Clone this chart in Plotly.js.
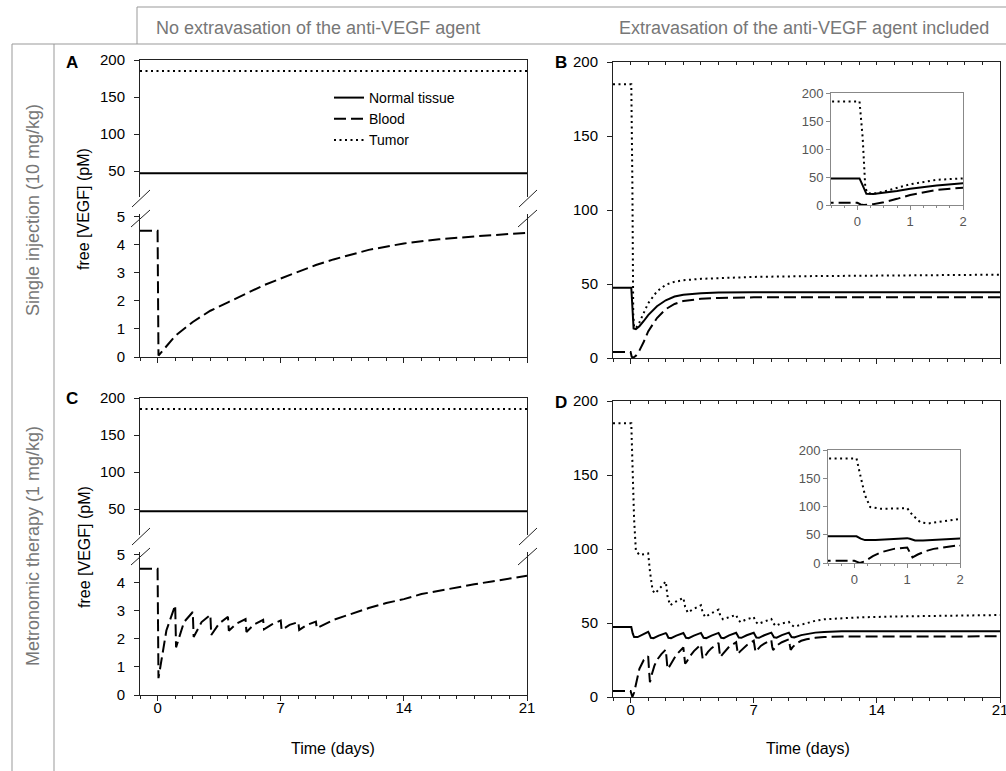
<!DOCTYPE html>
<html><head><meta charset="utf-8">
<script src="https://cdn.plot.ly/plotly-3.0.1.min.js"></script>
<style>body{margin:0;background:#fff}#chart{width:1006px;height:771px}</style>
</head><body><div id="chart"></div>
<script>
// ---------------- DATA ----------------
const seriesNames = ["Normal tissue", "Blood", "Tumor"];
const flatDays = [-1, 21];
const normalFlat = [47, 47];
const tumorFlat = [185, 185];

// Panel A: single injection, no extravasation (blood)
const bloodA_t = [-1, 0, 0.05, 0.5, 1, 2, 3, 4, 5, 6, 7, 8, 9, 10, 12, 14, 16, 18, 20, 21];
const bloodA_v = [4.5, 4.5, 0.05, 0.4, 0.75, 1.25, 1.65, 1.95, 2.25, 2.55, 2.8, 3.05, 3.28, 3.48, 3.82, 4.05, 4.2, 4.3, 4.4, 4.43];

// Panel C: metronomic, no extravasation (blood)
const bloodC_t = [-1, 0, 0.05, 0.5, 1.0, 1.05, 1.5, 2.0, 2.05, 2.5, 3.0, 3.05, 3.5, 4.0, 4.05, 4.5, 5.0, 5.05, 5.5, 6.0, 6.05, 6.5, 7.0, 7.05, 7.5, 8.0, 8.05, 8.5, 9.0, 9.05, 10, 11, 12, 13, 14, 15, 16, 17, 18, 19, 20, 21];
const bloodC_v = [4.5, 4.5, 0.6, 2.3, 3.2, 1.7, 2.6, 2.96, 2.07, 2.6, 2.86, 2.14, 2.55, 2.79, 2.29, 2.55, 2.71, 2.25, 2.52, 2.68, 2.34, 2.52, 2.66, 2.32, 2.5, 2.6, 2.32, 2.5, 2.62, 2.38, 2.68, 2.9, 3.1, 3.28, 3.42, 3.6, 3.72, 3.82, 3.95, 4.05, 4.15, 4.25];

// Panel B: single injection, extravasation included
const tumorB_t = [-1, 0.04, 0.1, 0.15, 0.2, 0.3, 0.5, 0.75, 1, 1.5, 2, 2.5, 3, 4, 5, 7, 10, 14, 21];
const tumorB_v = [185, 185, 120, 30, 21, 20, 24, 30, 37, 45, 49.5, 51.5, 52.5, 53.5, 54, 54.8, 55.3, 55.8, 56.3];
const normalB_t = [-1, 0.04, 0.1, 0.17, 0.3, 0.5, 0.75, 1, 1.5, 2, 2.5, 3, 4, 5, 7, 21];
const normalB_v = [47.5, 47.5, 35, 20, 19.5, 21.5, 25, 29, 35, 39, 41.5, 42.8, 43.8, 44.2, 44.5, 44.5];
const bloodB_t = [-1, 0, 0.06, 0.12, 0.3, 0.5, 0.75, 1, 1.5, 2, 2.5, 3, 4, 5, 7, 21];
const bloodB_v = [4, 4, 1, 0, 1.5, 5, 11, 18, 27, 33, 36.5, 38.5, 40, 40.6, 41, 41];

// Panel D: metronomic, extravasation included
const tumorD_t = [-1, 0.04, 0.1, 0.2, 0.3, 0.5, 0.8, 1.0, 1.1, 1.25, 1.4, 1.7, 2.0, 2.1, 2.25, 2.5, 3.0, 3.1, 3.25, 3.5, 4.0, 4.1, 4.25, 4.5, 5.0, 5.1, 5.25, 5.5, 6.0, 6.1, 6.25, 6.5, 7.0, 7.1, 7.25, 7.5, 8.0, 8.1, 8.25, 8.5, 9.0, 9.1, 9.3, 9.6, 10, 10.5, 11, 12, 13, 15, 18, 21];
const tumorD_v = [185, 185, 160, 120, 99, 96, 96.5, 97, 85, 72, 70, 74, 78, 68, 62, 64, 67, 61, 57, 59, 62, 57, 54, 56, 59, 55, 52.5, 53.5, 55.5, 52.5, 50.5, 52, 54, 51, 49.3, 50.5, 52.7, 50, 48, 49.5, 50.7, 49, 47.5, 48.5, 50, 51.5, 52.5, 53.3, 53.8, 54.4, 55, 55.4];
const normalD_t = [-1, 0.04, 0.12, 0.2, 0.4, 0.7, 1.0, 1.05, 1.15, 1.3, 1.6, 2.0, 2.05, 2.15, 2.3, 2.6, 3.0, 3.15, 3.3, 3.6, 4.0, 4.15, 4.3, 4.6, 5.0, 5.15, 5.3, 5.6, 6.0, 6.15, 6.3, 6.6, 7.0, 7.15, 7.3, 7.6, 8.0, 8.15, 8.3, 8.6, 9.0, 9.15, 9.3, 9.7, 10, 10.5, 11, 12, 14, 21];
const normalD_v = [47.3, 47.3, 43, 40.5, 40.5, 42.5, 44, 43, 40, 39.7, 41.5, 43.2, 42.5, 40, 39.8, 41.5, 43.2, 40, 39.8, 41.5, 43.3, 40, 39.8, 41.5, 43.3, 40, 39.8, 41.6, 43.4, 40.2, 40, 41.7, 43.4, 40.2, 40, 41.7, 43.5, 40.3, 40.1, 41.8, 43.5, 40.5, 40.3, 41.8, 42.6, 43.5, 44, 44.4, 44.5, 44.5];
const bloodD_t = [-1, 0, 0.05, 0.1, 0.2, 0.35, 0.5, 0.75, 1.0, 1.05, 1.1, 1.2, 1.35, 1.5, 1.75, 2.0, 2.05, 2.1, 2.2, 2.4, 2.6, 3.0, 3.05, 3.1, 3.2, 3.4, 3.6, 4.0, 4.05, 4.1, 4.2, 4.4, 4.6, 5.0, 5.05, 5.1, 5.2, 5.4, 5.6, 6.0, 6.05, 6.1, 6.2, 6.4, 6.6, 7.0, 7.05, 7.1, 7.2, 7.4, 7.6, 8.0, 8.05, 8.1, 8.2, 8.4, 8.6, 9.0, 9.05, 9.1, 9.2, 9.4, 9.7, 10, 10.5, 11, 12, 21];
const bloodD_v = [4, 4, 2, 0, 3, 12, 19, 25, 27.5, 18, 10, 15, 21, 25, 29, 32, 25, 19, 20.5, 25, 28.5, 33.5, 28, 22.5, 24, 28, 31, 35.5, 30, 25.7, 27, 30.5, 33, 36.5, 31, 27, 28.5, 31.5, 34, 37, 32, 29, 30.5, 33, 35, 38, 34, 30.4, 31.8, 34.5, 36, 38.5, 34, 31.8, 33, 35.5, 37, 39, 35, 31.8, 33.5, 36, 38, 39, 40, 40.5, 40.8, 41];

// tick values / labels
const dayTicks = [0, 7, 14, 21];
const upperTicks = [50, 100, 150, 200];
const lowerTicks = [0, 1, 2, 3, 4, 5];
const fullTicks = [0, 50, 100, 150, 200];
const insetDayTicks = [0, 1, 2];

const headerLeft = "No extravasation of the anti-VEGF agent";
const headerRight = "Extravasation of the anti-VEGF agent included";
const rowLabels = ["Single injection (10 mg/kg)", "Metronomic therapy (1 mg/kg)"];
const yTitle = "free [VEGF] (pM)";
const xTitle = "Time (days)";

// ---------------- LAYOUT HELPERS ----------------
const W = 1006, H = 771;
const FONT = "Liberation Sans, Arial, sans-serif";
const px = v => v / W;
const py = v => 1 - v / H;
const xd = (a, b) => [a / W, b / W];
const yd = (top, bot) => [1 - bot / H, 1 - top / H];

const STY = {
  normal: {color: "#000", width: 2, dash: "solid"},
  blood: {color: "#000", width: 2, dash: "12px,5px"},
  tumor: {color: "#000", width: 2, dash: "2px,3.5px"}
};

function tr(x, y, xa, ya, style, name, showlegend) {
  return {x: x, y: y, xaxis: xa, yaxis: ya, type: "scatter", mode: "lines",
    line: Object.assign({}, style), name: name || "", showlegend: !!showlegend, hoverinfo: "skip"};
}

const data = [
  // Panel A
  tr(flatDays, normalFlat, "x", "y", STY.normal, seriesNames[0], true),
  tr(bloodA_t, bloodA_v, "x2", "y2", STY.blood, seriesNames[1], true),
  tr(flatDays, tumorFlat, "x", "y", STY.tumor, seriesNames[2], true),
  // Panel C
  tr(flatDays, normalFlat, "x3", "y3", STY.normal),
  tr(flatDays, tumorFlat, "x3", "y3", STY.tumor),
  tr(bloodC_t, bloodC_v, "x4", "y4", STY.blood),
  // Panel B main
  tr(normalB_t, normalB_v, "x5", "y5", STY.normal),
  tr(bloodB_t, bloodB_v, "x5", "y5", STY.blood),
  tr(tumorB_t, tumorB_v, "x5", "y5", STY.tumor),
  {x: [], y: [], xaxis: "x6", yaxis: "y5", type: "scatter", mode: "lines", showlegend: false},
  // Panel B inset
  tr(normalB_t, normalB_v, "x7", "y7", STY.normal),
  tr(bloodB_t, bloodB_v, "x7", "y7", STY.blood),
  tr(tumorB_t, tumorB_v, "x7", "y7", STY.tumor),
  // Panel D main
  tr(normalD_t, normalD_v, "x8", "y8", STY.normal),
  tr(bloodD_t, bloodD_v, "x8", "y8", STY.blood),
  tr(tumorD_t, tumorD_v, "x8", "y8", STY.tumor),
  {x: [], y: [], xaxis: "x9", yaxis: "y8", type: "scatter", mode: "lines", showlegend: false},
  // Panel D inset
  tr(normalD_t, normalD_v, "x10", "y10", STY.normal),
  tr(bloodD_t, bloodD_v, "x10", "y10", STY.blood),
  tr(tumorD_t, tumorD_v, "x10", "y10", STY.tumor)
];

const AX = "#222";
const base = {showgrid: false, zeroline: false, linecolor: AX, linewidth: 1, tickcolor: AX,
  tickfont: {family: FONT, size: 15, color: "#000"}, fixedrange: true, ticklabeloverflow: "allow"};

function xMain(dom, anchor, labels) {
  return Object.assign({}, base, {domain: dom, anchor: anchor, range: [-1, 21], showline: true,
    ticks: "outside", tickvals: dayTicks, ticktext: dayTicks.map(String), ticklen: 5,
    minor: {dtick: 1, tick0: 0, ticks: "outside", ticklen: 3, tickcolor: AX},
    showticklabels: labels, ticklabelstandoff: -6});
}
function xTopLine(dom, anchor) {
  return Object.assign({}, base, {domain: dom, anchor: anchor, range: [-1, 21], side: "top",
    showline: true, ticks: "", showticklabels: false});
}
function xTopTicks(over, anchor) {
  return Object.assign({}, base, {overlaying: over, anchor: anchor, range: [-1, 21], side: "top",
    showline: false, ticks: "inside", tickmode: "linear", tick0: 0, dtick: 1, ticklen: 3, showticklabels: false});
}
function yAxis(dom, anchor, range, vals) {
  return Object.assign({}, base, {domain: dom, anchor: anchor, range: range, showline: true, mirror: true,
    ticks: "outside", tickvals: vals, ticktext: vals.map(String), ticklen: 5, ticklabelstandoff: 6});
}
const IG = "#888";
function xInset(dom, anchor) {
  return Object.assign({}, base, {domain: dom, anchor: anchor, range: [-0.5, 2], showline: true, mirror: true,
    linecolor: IG, tickcolor: IG, ticks: "outside", tickvals: insetDayTicks, ticktext: insetDayTicks.map(String), ticklen: 4,
    minor: {dtick: 0.25, tick0: 0, ticks: "outside", ticklen: 2, tickcolor: IG},
    tickfont: {family: FONT, size: 13, color: "#555"}});
}
function yInset(dom, anchor) {
  return Object.assign({}, base, {domain: dom, anchor: anchor, range: [0, 200], showline: true, mirror: true,
    linecolor: IG, tickcolor: IG, ticks: "outside", tickvals: fullTicks, ticktext: fullTicks.map(String), ticklen: 4,
    tickfont: {family: FONT, size: 13, color: "#555"}});
}

const colA = xd(140, 527), colB = xd(613, 1000);

const layout = {
  width: W, height: H, margin: {l: 0, r: 0, t: 0, b: 0},
  paper_bgcolor: "#fff", plot_bgcolor: "#fff",
  font: {family: FONT, size: 15, color: "#000"},
  showlegend: true,
  legend: {x: px(329), y: py(82), xanchor: "left", yanchor: "top", bgcolor: "rgba(0,0,0,0)",
    borderwidth: 0, font: {family: FONT, size: 14, color: "#000"}, tracegroupgap: 0, itemclick: false},
  // A
  xaxis: xTopLine(colA, "y"),
  yaxis: yAxis(yd(60, 197), "x", [15, 200], upperTicks),
  xaxis2: xMain(colA, "y2", false),
  yaxis2: yAxis(yd(214, 357), "x2", [0, 5.1], lowerTicks),
  // C
  xaxis3: xTopLine(colA, "y3"),
  yaxis3: yAxis(yd(398, 535), "x3", [15, 200], upperTicks),
  xaxis4: xMain(colA, "y4", true),
  yaxis4: yAxis(yd(552, 695), "x4", [0, 5.1], lowerTicks),
  // B
  xaxis5: Object.assign(xMain(colB, "y5", false), {mirror: true}),
  yaxis5: yAxis(yd(62, 358), "x5", [0, 200], fullTicks),
  xaxis6: xTopTicks("x5", "y5"),
  xaxis7: xInset(xd(831, 963), "y7"),
  yaxis7: yInset(yd(93, 205), "x7"),
  // D
  xaxis8: Object.assign(xMain(colB, "y8", true), {mirror: true}),
  yaxis8: yAxis(yd(401, 697), "x8", [0, 200], fullTicks),
  xaxis9: xTopTicks("x8", "y8"),
  xaxis10: xInset(xd(828, 960), "y10"),
  yaxis10: yInset(yd(450, 563), "x10"),
  annotations: [],
  shapes: []
};

function ann(text, x, y, opts) {
  return Object.assign({text: text, x: px(x), y: py(y), xref: "paper", yref: "paper",
    showarrow: false, xanchor: "center", yanchor: "middle",
    font: {family: FONT, size: 15, color: "#000"}}, opts || {});
}
const GRAY = "#777";
layout.annotations.push(
  ann(headerLeft, 318, 28, {font: {family: FONT, size: 18, color: GRAY}}),
  ann(headerRight, 804, 28, {font: {family: FONT, size: 18, color: GRAY}}),
  ann(rowLabels[0], 33, 210, {textangle: -90, font: {family: FONT, size: 18, color: GRAY}}),
  ann(rowLabels[1], 33, 546, {textangle: -90, font: {family: FONT, size: 18, color: GRAY}}),
  ann(yTitle, 84, 209, {textangle: -90, font: {family: FONT, size: 16, color: "#000"}}),
  ann(yTitle, 84, 547, {textangle: -90, font: {family: FONT, size: 16, color: "#000"}}),
  ann("<b>A</b>", 72, 62, {font: {family: FONT, size: 17, color: "#000"}}),
  ann("<b>B</b>", 561, 62, {font: {family: FONT, size: 17, color: "#000"}}),
  ann("<b>C</b>", 72, 398, {font: {family: FONT, size: 17, color: "#000"}}),
  ann("<b>D</b>", 561, 402, {font: {family: FONT, size: 17, color: "#000"}}),
  ann(xTitle, 333, 748, {font: {family: FONT, size: 16, color: "#000"}}),
  ann(xTitle, 808, 748, {font: {family: FONT, size: 16, color: "#000"}})
);

function seg(x0, y0, x1, y1, color, width) {
  return {type: "line", xref: "paper", yref: "paper", x0: px(x0), y0: py(y0), x1: px(x1), y1: py(y1),
    line: {color: color, width: width}};
}
const FR = "#999";
layout.shapes.push(
  seg(137, 7, 1006, 7, FR, 1),
  seg(137, 7, 137, 44, FR, 1),
  seg(12, 44, 1006, 44, FR, 1),
  seg(12, 44, 12, 771, FR, 1),
  seg(54, 44, 54, 771, FR, 1)
);
// axis break marks (A and C, left and right axes)
[0, 338].forEach(function (dy) {
  [140, 527].forEach(function (ax) {
    layout.shapes.push(seg(ax - 8, 207 + dy, ax + 10, 190 + dy, AX, 1));
    layout.shapes.push(seg(ax - 9, 227 + dy, ax + 10, 210 + dy, AX, 1));
  });
});

Plotly.newPlot("chart", data, layout, {displayModeBar: false, staticPlot: true});
</script>
</body></html>
